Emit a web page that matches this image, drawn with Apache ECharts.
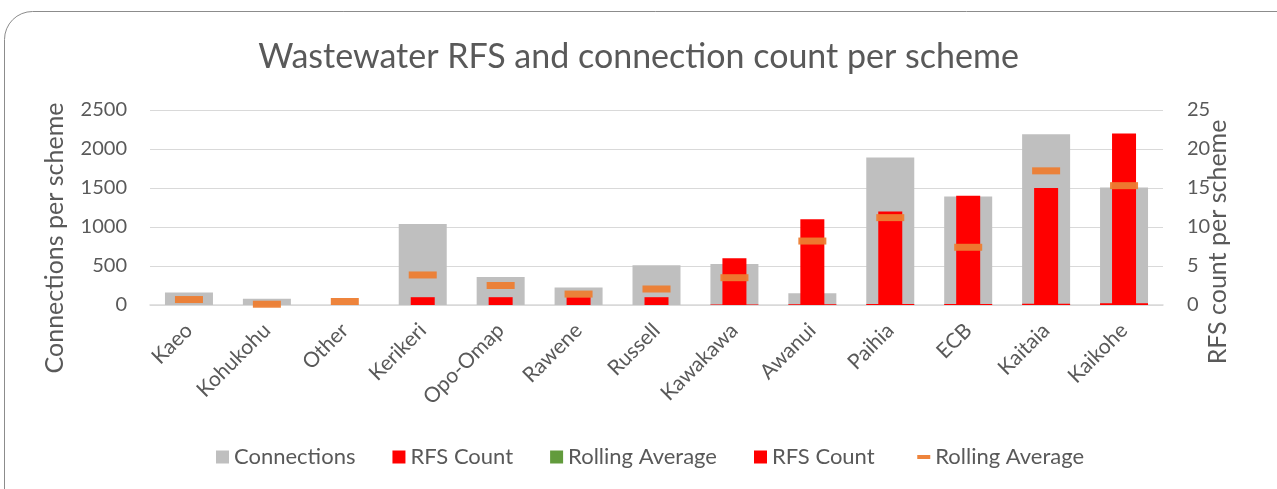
<!DOCTYPE html>
<html>
<head>
<meta charset="utf-8">
<title>Wastewater RFS and connection count per scheme</title>
<script src="https://cdn.jsdelivr.net/npm/echarts@6/dist/echarts.min.js"></script>
<style>
  html, body { margin: 0; padding: 0; background: #ffffff; }
  #chart { width: 1277px; height: 489px; }
</style>
</head>
<body>
<div id="chart"></div>
<script>
// Schemes, ordered by RFS count
const schemes = ['Kaeo', 'Kohukohu', 'Other', 'Kerikeri', 'Opo-Omap', 'Rawene', 'Russell',
                 'Kawakawa', 'Awanui', 'Paihia', 'ECB', 'Kaitaia', 'Kaikohe'];

// Connections per scheme (left axis)
const connections = [160, 80, 0, 1040, 360, 225, 510, 525, 150, 1890, 1390, 2190, 1505];

// RFS count per scheme (right axis)
const rfsCount = [0, 0, 0, 1, 1, 1, 1, 6, 11, 12, 14, 15, 22];

// Rolling average of RFS count (right axis)
const rollingAverage = [0.7, 0.1, 0.45, 3.85, 2.5, 1.4, 2.05, 3.5, 8.2, 11.2, 7.4, 17.2, 15.3];

// Axis ticks
const leftTicks = { min: 0, max: 2500, interval: 500 };
const rightTicks = { min: 0, max: 25, interval: 5 };

const FONT = 'Lato';
const TEXT = '#595959';

const chart = echarts.init(document.getElementById('chart'), null, { renderer: 'canvas' });

chart.setOption({
  backgroundColor: '#ffffff',
  animation: false,
  textStyle: { fontFamily: FONT, color: TEXT },
  title: {
    text: 'Wastewater RFS and connection count per scheme',
    left: 'center',
    top: 35,
    textStyle: { fontFamily: FONT, fontSize: 34, fontWeight: 'normal', color: TEXT }
  },
  legend: {
    bottom: 16,
    left: 211,
    itemWidth: 13,
    itemHeight: 13,
    itemGap: 37,
    textStyle: { fontFamily: FONT, fontSize: 22, color: TEXT },
    data: [
      { name: 'Connections', icon: 'rect' },
      { name: 'RFS Count', icon: 'rect' },
      { name: 'Rolling Average', icon: 'rect' },
      { name: 'RFS Count ', icon: 'rect' },
      { name: 'Rolling Average ', icon: 'path://M0,0H13V4H0Z' }
    ]
  },
  grid: { left: 150, right: 114, top: 110, bottom: 184, containLabel: false },
  xAxis: [
    {
      type: 'category',
      data: schemes,
      axisTick: { show: false },
      axisLine: { lineStyle: { color: '#d9d9d9', width: 1.5 } },
      axisLabel: { rotate: 45, margin: 22, fontFamily: FONT, fontSize: 21, color: TEXT, interval: 0 }
    },
    {
      type: 'category',
      data: schemes,
      show: false,
      gridIndex: 0
    }
  ],
  yAxis: [
    {
      type: 'value',
      min: leftTicks.min, max: leftTicks.max, interval: leftTicks.interval,
      axisLine: { show: false },
      axisTick: { show: false },
      splitLine: { lineStyle: { color: '#d9d9d9', width: 1.2 } },
      axisLabel: { margin: 23, fontFamily: FONT, fontSize: 20, color: TEXT, formatter: v => String(v) }
    },
    {
      type: 'value',
      min: rightTicks.min, max: rightTicks.max, interval: rightTicks.interval,
      position: 'right',
      axisLine: { show: false },
      axisTick: { show: false },
      splitLine: { show: false },
      axisLabel: { margin: 24, fontFamily: FONT, fontSize: 20, color: TEXT, formatter: v => String(v) }
    }
  ],
  series: [
    {
      name: 'Connections',
      type: 'bar',
      xAxisIndex: 0, yAxisIndex: 0,
      barWidth: 48,
      barGap: '-100%',
      itemStyle: { color: '#bfbfbf' },
      data: connections
    },
    {
      name: 'RFS Count',
      type: 'bar',
      xAxisIndex: 0, yAxisIndex: 0,
      barWidth: 48,
      barGap: '-100%',
      itemStyle: { color: '#ff0000' },
      data: rfsCount
    },
    {
      name: 'Rolling Average',
      type: 'bar',
      xAxisIndex: 0, yAxisIndex: 0,
      barWidth: 48,
      barGap: '-100%',
      itemStyle: { color: '#629b3c' },
      data: []
    },
    {
      name: 'RFS Count ',
      type: 'bar',
      xAxisIndex: 1, yAxisIndex: 1,
      barWidth: 24,
      itemStyle: { color: '#ff0000' },
      data: rfsCount
    },
    {
      name: 'Rolling Average ',
      type: 'scatter',
      xAxisIndex: 1, yAxisIndex: 1,
      symbol: 'rect',
      symbolSize: [28, 7],
      itemStyle: { color: '#ed7d31', opacity: 0.95 },
      z: 5,
      data: rollingAverage
    }
  ],
  graphic: [
    {
      type: 'rect',
      shape: { x: 4.5, y: 11.5, width: 1320, height: 520, r: 28 },
      style: { fill: 'none', stroke: '#8c8c8c', lineWidth: 1 },
      silent: true, z: -1
    },
    {
      type: 'text',
      x: 55, y: 238,
      rotation: Math.PI / 2,
      style: {
        text: 'Connections per scheme',
        fontFamily: FONT, fontSize: 25, fill: TEXT,
        align: 'center', verticalAlign: 'middle'
      }
    },
    {
      type: 'text',
      x: 1218, y: 242,
      rotation: Math.PI / 2,
      style: {
        text: 'RFS count per scheme',
        fontFamily: FONT, fontSize: 25, fill: TEXT,
        align: 'center', verticalAlign: 'middle'
      }
    }
  ]
});
</script>
</body>
</html>
